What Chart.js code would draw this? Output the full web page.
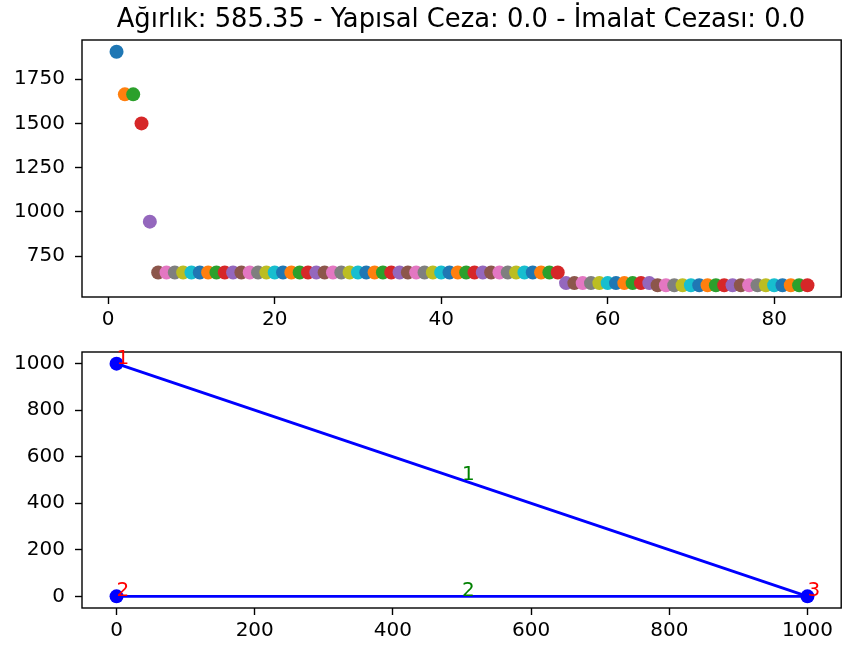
<!DOCTYPE html>
<html><head><meta charset="utf-8">
<script src="https://cdn.jsdelivr.net/npm/chart.js@4.4.1/dist/chart.umd.min.js"></script>
<style>
html,body{margin:0;padding:0;background:#fff;}
#wrap{position:relative;width:842px;height:648px;overflow:hidden;}
.box{position:absolute;left:0;width:842px;}
</style></head><body>
<div id="wrap">
<div class="box" style="top:0;height:330px"><canvas id="c1" width="842" height="330"></canvas></div>
<div class="box" style="top:330px;height:318px"><canvas id="c2" width="842" height="318"></canvas></div>
</div>
<script>
// ---------- data ----------
const TITLE = 'Ağırlık: 585.35 - Yapısal Ceza: 0.0 - İmalat Cezası: 0.0';
const iterations = [1,2,3,4,5,6,7,8,9,10,11,12,13,14,15,16,17,18,19,20,21,22,23,24,25,26,27,28,29,30,31,32,33,34,35,36,37,38,39,40,41,42,43,44,45,46,47,48,49,50,51,52,53,54,55,56,57,58,59,60,61,62,63,64,65,66,67,68,69,70,71,72,73,74,75,76,77,78,79,80,81,82,83,84];
const weights = [
  1905,1664,1664,1500,945,
  658,658,658,658,658,658,658,658,658,658,
  658,658,658,658,658,658,658,658,658,658,
  658,658,658,658,658,658,658,658,658,658,
  658,658,658,658,658,658,658,658,658,658,
  658,658,658,658,658,658,658,658,658,
  598,598,598,598,598,598,598,598,598,598,
  598,
  585.35,585.35,585.35,585.35,585.35,585.35,585.35,585.35,585.35,585.35,
  585.35,585.35,585.35,585.35,585.35,585.35,585.35,585.35,585.35];
const iterTicks = [0,20,40,60,80];
const weightTicks = [750,1000,1250,1500,1750];

const nodeIds = [1,2,3];
const nodeX = [0,0,1000];
const nodeY = [1000,0,0];
const elemIds = [1,2];
const elemStart = [1,2];
const elemEnd = [3,3];
const coordTicks = [0,200,400,600,800,1000];

// ---------- style ----------
const FONT = 'DejaVu Sans';
const TAB10 = ['#1f77b4','#ff7f0e','#2ca02c','#d62728','#9467bd','#8c564b','#e377c2','#7f7f7f','#bcbd22','#17becf'];
const TICK_FS = 20;
const TITLE_FS = 25.8;

function margins(vals){
  const mn = Math.min(...vals), mx = Math.max(...vals), r = mx - mn;
  return [mn - 0.05*r, mx + 0.05*r];
}

function axis(minmax, ticks, isX, fitSize){
  return {
    type:'linear', min:minmax[0], max:minmax[1],
    afterBuildTicks: s => { s.ticks = ticks.map(v => ({value:v})); },
    afterFit: s => { if (isX) s.height = fitSize; else s.width = fitSize; },
    grid:{display:true, drawOnChartArea:false, drawTicks:true, tickLength:7, tickWidth:1.4, color:'#000'},
    border:{display:false},
    ticks:{color:'#000', font:{family:FONT, size:TICK_FS}, padding: isX ? 4 : 10, maxRotation:0, autoSkip:false,
           callback: v => String(v)}
  };
}

const spinePlugin = {
  id:'spines',
  afterDraw(chart){
    const a = chart.chartArea, ctx = chart.ctx;
    ctx.save(); ctx.strokeStyle = '#000'; ctx.lineWidth = 1.4;
    ctx.strokeRect(a.left, a.top, a.right - 0.8 - a.left, a.bottom - a.top);
    ctx.restore();
  }
};

const titlePlugin = {
  id:'mtitle',
  afterDraw(chart){
    const a = chart.chartArea, ctx = chart.ctx;
    ctx.save(); ctx.fillStyle = '#000'; ctx.font = TITLE_FS + 'px "' + FONT + '"';
    ctx.textAlign = 'center'; ctx.textBaseline = 'alphabetic';
    ctx.fillText(TITLE, (a.left + a.right)/2 - 1, a.top - 13);
    ctx.restore();
  }
};

Chart.defaults.animation = false;

// ---------- top chart ----------
new Chart(document.getElementById('c1'), {
  type:'scatter',
  data:{datasets:[{
    data: iterations.map((x,i) => ({x:x, y:weights[i]})),
    pointRadius:7, pointHoverRadius:7, pointBorderWidth:0,
    pointBackgroundColor: iterations.map((x,i) => TAB10[i % 10])
  }]},
  options:{
    responsive:false, events:[],
    layout:{autoPadding:false, padding:{left:0, right:0, top:40, bottom:0}},
    plugins:{legend:{display:false}, tooltip:{enabled:false}, title:{display:false}},
    scales:{
      x: axis(margins(iterations), iterTicks, true, 33),
      y: axis(margins(weights), weightTicks, false, 82)
    }
  },
  plugins:[spinePlugin, titlePlugin]
});

// ---------- bottom chart ----------
const idx = id => nodeIds.indexOf(id);
const lineSets = elemIds.map((e,i) => ({
  type:'line',
  data:[{x:nodeX[idx(elemStart[i])], y:nodeY[idx(elemStart[i])]},
        {x:nodeX[idx(elemEnd[i])],   y:nodeY[idx(elemEnd[i])]}],
  borderColor:'#0000ff', borderWidth:2.8, pointRadius:0, showLine:true, fill:false, order:2
}));
const nodeSet = {
  type:'scatter',
  data: nodeIds.map((n,i) => ({x:nodeX[i], y:nodeY[i]})),
  pointRadius:7, pointBorderWidth:0, pointBackgroundColor:'#0000ff', order:1
};

const labelPlugin = {
  id:'labels',
  afterDraw(chart){
    const xs = chart.scales.x, ys = chart.scales.y, ctx = chart.ctx;
    ctx.save(); ctx.font = TICK_FS + 'px "' + FONT + '"';
    ctx.textAlign = 'left'; ctx.textBaseline = 'alphabetic';
    ctx.fillStyle = '#ff0000';
    nodeIds.forEach((n,i) => ctx.fillText(String(n), xs.getPixelForValue(nodeX[i]), ys.getPixelForValue(nodeY[i])));
    ctx.fillStyle = '#008000';
    elemIds.forEach((e,i) => {
      const a = idx(elemStart[i]), b = idx(elemEnd[i]);
      const mx = (nodeX[a] + nodeX[b]) / 2, my = (nodeY[a] + nodeY[b]) / 2;
      ctx.fillText(String(e), xs.getPixelForValue(mx), ys.getPixelForValue(my));
    });
    ctx.restore();
  }
};

new Chart(document.getElementById('c2'), {
  data:{datasets:[nodeSet, ...lineSets]},
  options:{
    responsive:false, events:[],
    layout:{autoPadding:false, padding:{left:0, right:0, top:19, bottom:0}},
    plugins:{legend:{display:false}, tooltip:{enabled:false}, title:{display:false}},
    scales:{
      x: axis(margins(nodeX), coordTicks, true, 40),
      y: axis(margins(nodeY), coordTicks, false, 82)
    }
  },
  plugins:[spinePlugin, labelPlugin]
});
</script>
</body></html>
